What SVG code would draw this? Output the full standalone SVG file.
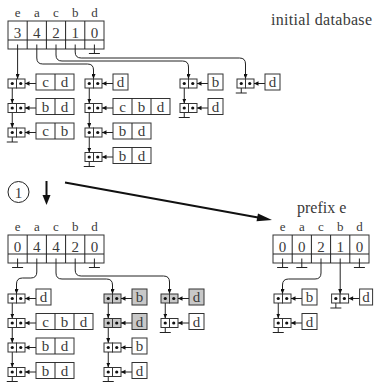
<svg xmlns="http://www.w3.org/2000/svg" xmlns:xlink="http://www.w3.org/1999/xlink" width="374" height="385" viewBox="0 0 374 385">
<style>
text{font-family:"Liberation Serif","DejaVu Serif",serif;font-size:15px;fill:#3a3a3a;text-anchor:middle}
.hd{font-size:13px}
.lbl{font-size:16px;text-anchor:start}
.bx{fill:#fff;stroke:#333;stroke-width:1}
.gy{fill:#c8c8c8}
.ln{fill:none;stroke:#222;stroke-width:1}
.pt{fill:none;stroke:#222;stroke-width:1;marker-end:url(#ah)}
.dt{fill:#111}
.big{fill:none;stroke:#111;stroke-width:2}
</style>
<defs>
<marker id="ah" viewBox="0 0 10 8" markerWidth="5" markerHeight="4" refX="10" refY="4" orient="auto" markerUnits="userSpaceOnUse"><path d="M0 0L10 4L0 8z" fill="#111"/></marker>
<g id="nd">
<rect class="bx" x="0" y="0" width="8.5" height="9"/><rect class="bx" x="8.5" y="0" width="8.5" height="9"/>
<circle class="dt" cx="4.25" cy="4.5" r="1.6"/><circle class="dt" cx="12.75" cy="4.5" r="1.6"/>
<path class="ln" d="M17 4.5H28"/><path class="dt" d="M17 4.5L21.5 2.2V6.8z"/>
</g>
<g id="ndg">
<rect class="bx gy" x="0" y="0" width="8.5" height="9"/><rect class="bx gy" x="8.5" y="0" width="8.5" height="9"/>
<circle class="dt" cx="4.25" cy="4.5" r="1.6"/><circle class="dt" cx="12.75" cy="4.5" r="1.6"/>
<path class="ln" d="M17 4.5H28"/><path class="dt" d="M17 4.5L21.5 2.2V6.8z"/>
</g>
</defs>

<text class="lbl" x="271" y="25" textLength="101">initial database</text>
<text class="lbl" x="297" y="213" font-size="15">prefix e</text>

<g id="array-initial">
<text class="hd" x="17.6" y="17">e</text><text class="hd" x="36.8" y="17">a</text><text class="hd" x="56" y="17">c</text><text class="hd" x="75.2" y="17">b</text><text class="hd" x="94.4" y="17">d</text>
<rect class="bx" x="8" y="21" width="96" height="28"/>
<path class="ln" d="M8 40H104M27.2 21V49M46.4 21V49M65.6 21V49M84.8 21V49"/>
<text x="17.6" y="37.5">3</text><text x="36.8" y="37.5">4</text><text x="56" y="37.5">2</text><text x="75.2" y="37.5">1</text><text x="94.4" y="37.5">0</text>
</g>

<g id="array-step1">
<text class="hd" x="17.6" y="231">e</text><text class="hd" x="36.8" y="231">a</text><text class="hd" x="56" y="231">c</text><text class="hd" x="75.2" y="231">b</text><text class="hd" x="94.4" y="231">d</text>
<rect class="bx" x="8" y="235" width="96" height="28"/>
<path class="ln" d="M8 254H104M27.2 235V263M46.4 235V263M65.6 235V263M84.8 235V263"/>
<text x="17.6" y="251.5">0</text><text x="36.8" y="251.5">4</text><text x="56" y="251.5">4</text><text x="75.2" y="251.5">2</text><text x="94.4" y="251.5">0</text>
</g>

<g id="array-prefix-e">
<text class="hd" x="282.6" y="231">e</text><text class="hd" x="301.8" y="231">a</text><text class="hd" x="321" y="231">c</text><text class="hd" x="340.2" y="231">b</text><text class="hd" x="359.4" y="231">d</text>
<rect class="bx" x="273" y="235" width="96" height="28"/>
<path class="ln" d="M273 254H369M292.2 235V263M311.4 235V263M330.6 235V263M349.8 235V263"/>
<text x="282.6" y="251.5">0</text><text x="301.8" y="251.5">0</text><text x="321" y="251.5">2</text><text x="340.2" y="251.5">1</text><text x="359.4" y="251.5">0</text>
</g>

<g id="step-marker">
<circle class="ln" cx="18.5" cy="192" r="10.5"/>
<text x="18.5" y="197.5">1</text>
</g>

<g id="connectors">
<path class="pt" d="M17.6 44.5V79"/>
<path class="pt" d="M36.8 44.5V58Q36.8 64 42.8 64H87.5Q93.5 64 93.5 70V79"/>
<path class="pt" d="M56 44.5V55Q56 61 62 61H182.5Q188.5 61 188.5 67V79"/>
<path class="pt" d="M75.2 44.5V52Q75.2 58 81.2 58H239.5Q245.5 58 245.5 64V79"/>
<path class="ln" d="M94.4 44.5V53.5M88.9 53.5H99.9"/>

<path class="pt" d="M12.25 83.5V103.5"/><path class="pt" d="M12.25 108V128"/><path class="ln" d="M12.25 132.5V142M6.75 142H17.75"/>
<path class="pt" d="M89.25 83.5V103.5"/><path class="pt" d="M89.25 108V128"/><path class="pt" d="M89.25 132.5V152.5"/><path class="ln" d="M89.25 157V166.5M83.75 166.5H94.75"/>
<path class="pt" d="M184.25 83.5V103.5"/><path class="ln" d="M184.25 108V117.5M178.75 117.5H189.75"/>
<path class="ln" d="M241.25 83.5V93M235.75 93H246.75"/>

<path class="ln" d="M17.6 258.5V267.5M12.1 267.5H23.1"/>
<path class="pt" d="M36.8 258.5V272Q36.8 278 30.8 278H22.5Q16.5 278 16.5 284V294"/>
<path class="pt" d="M56 258.5V273Q56 279 62 279H106.5Q112.5 279 112.5 285V294"/>
<path class="pt" d="M75.2 258.5V270Q75.2 276 81.2 276H163.5Q169.5 276 169.5 282V294"/>
<path class="ln" d="M94.4 258.5V267.5M88.9 267.5H99.9"/>

<path class="pt" d="M12.25 298.5V318.5"/><path class="pt" d="M12.25 323V343"/><path class="pt" d="M12.25 347.5V367.5"/><path class="ln" d="M12.25 372V381.5M6.75 381.5H17.75"/>
<path class="pt" d="M108.25 298.5V318.5"/><path class="pt" d="M108.25 323V343"/><path class="pt" d="M108.25 347.5V367.5"/><path class="ln" d="M108.25 372V381.5M102.75 381.5H113.75"/>
<path class="pt" d="M165.25 298.5V318.5"/><path class="ln" d="M165.25 323V332.5M159.75 332.5H170.75"/>

<path class="ln" d="M282.6 258.5V267.5M277.1 267.5H288.1"/>
<path class="ln" d="M301.8 258.5V267.5M296.3 267.5H307.3"/>
<path class="pt" d="M321 258.5V273Q321 279 315 279H288.5Q282.5 279 282.5 285V294"/>
<path class="pt" d="M340.2 258.5V294"/>
<path class="ln" d="M359.4 258.5V267.5M353.9 267.5H364.9"/>
<path class="pt" d="M278.25 298.5V318.5"/><path class="ln" d="M278.25 323V332.5M272.75 332.5H283.75"/>
<path class="ln" d="M335.85 298.5V308M330.35 308H341.35"/>

<path class="big" d="M46.5 181V196"/><path class="dt" d="M42.5 195H50.5L46.5 205z"/>
<path class="big" d="M65 182.5L258 217.5"/><path class="dt" d="M272 220L256.5 221.3L258 213.4z"/>
</g>

<g id="t-e-1" transform="translate(8,79)"><use href="#nd"/><rect class="bx" x="28" y="-5" width="38" height="16"/><path class="ln" d="M47 -5V11"/><text x="37.5" y="8">c</text><text x="56.5" y="8">d</text></g>
<g id="t-e-2" transform="translate(8,103.5)"><use href="#nd"/><rect class="bx" x="28" y="-5" width="38" height="16"/><path class="ln" d="M47 -5V11"/><text x="37.5" y="8">b</text><text x="56.5" y="8">d</text></g>
<g id="t-e-3" transform="translate(8,128)"><use href="#nd"/><rect class="bx" x="28" y="-5" width="38" height="16"/><path class="ln" d="M47 -5V11"/><text x="37.5" y="8">c</text><text x="56.5" y="8">b</text></g>

<g id="t-a-1" transform="translate(85,79)"><use href="#nd"/><rect class="bx" x="28" y="-5" width="15" height="16"/><text x="35.5" y="8">d</text></g>
<g id="t-a-2" transform="translate(85,103.5)"><use href="#nd"/><rect class="bx" x="28" y="-5" width="57" height="16"/><path class="ln" d="M47 -5V11M66 -5V11"/><text x="37.5" y="8">c</text><text x="56.5" y="8">b</text><text x="75.5" y="8">d</text></g>
<g id="t-a-3" transform="translate(85,128)"><use href="#nd"/><rect class="bx" x="28" y="-5" width="38" height="16"/><path class="ln" d="M47 -5V11"/><text x="37.5" y="8">b</text><text x="56.5" y="8">d</text></g>
<g id="t-a-4" transform="translate(85,152.5)"><use href="#nd"/><rect class="bx" x="28" y="-5" width="38" height="16"/><path class="ln" d="M47 -5V11"/><text x="37.5" y="8">b</text><text x="56.5" y="8">d</text></g>

<g id="t-c-1" transform="translate(180,79)"><use href="#nd"/><rect class="bx" x="28" y="-5" width="15" height="16"/><text x="35.5" y="8">b</text></g>
<g id="t-c-2" transform="translate(180,103.5)"><use href="#nd"/><rect class="bx" x="28" y="-5" width="15" height="16"/><text x="35.5" y="8">d</text></g>

<g id="t-b-1" transform="translate(237,79)"><use href="#nd"/><rect class="bx" x="28" y="-5" width="15" height="16"/><text x="35.5" y="8">d</text></g>

<g id="s-a-1" transform="translate(8,294)"><use href="#nd"/><rect class="bx" x="28" y="-5" width="15" height="16"/><text x="35.5" y="8">d</text></g>
<g id="s-a-2" transform="translate(8,318.5)"><use href="#nd"/><rect class="bx" x="28" y="-5" width="57" height="16"/><path class="ln" d="M47 -5V11M66 -5V11"/><text x="37.5" y="8">c</text><text x="56.5" y="8">b</text><text x="75.5" y="8">d</text></g>
<g id="s-a-3" transform="translate(8,343)"><use href="#nd"/><rect class="bx" x="28" y="-5" width="38" height="16"/><path class="ln" d="M47 -5V11"/><text x="37.5" y="8">b</text><text x="56.5" y="8">d</text></g>
<g id="s-a-4" transform="translate(8,367.5)"><use href="#nd"/><rect class="bx" x="28" y="-5" width="38" height="16"/><path class="ln" d="M47 -5V11"/><text x="37.5" y="8">b</text><text x="56.5" y="8">d</text></g>

<g id="s-c-1" transform="translate(104,294)"><use href="#ndg"/><rect class="bx gy" x="28" y="-5" width="15" height="16"/><text x="35.5" y="8">b</text></g>
<g id="s-c-2" transform="translate(104,318.5)"><use href="#ndg"/><rect class="bx gy" x="28" y="-5" width="15" height="16"/><text x="35.5" y="8">d</text></g>
<g id="s-c-3" transform="translate(104,343)"><use href="#nd"/><rect class="bx" x="28" y="-5" width="15" height="16"/><text x="35.5" y="8">b</text></g>
<g id="s-c-4" transform="translate(104,367.5)"><use href="#nd"/><rect class="bx" x="28" y="-5" width="15" height="16"/><text x="35.5" y="8">d</text></g>

<g id="s-b-1" transform="translate(161,294)"><use href="#ndg"/><rect class="bx gy" x="28" y="-5" width="15" height="16"/><text x="35.5" y="8">d</text></g>
<g id="s-b-2" transform="translate(161,318.5)"><use href="#nd"/><rect class="bx" x="28" y="-5" width="15" height="16"/><text x="35.5" y="8">d</text></g>

<g id="p-c-1" transform="translate(274,294)"><use href="#nd"/><rect class="bx" x="28" y="-5" width="15" height="16"/><text x="35.5" y="8">b</text></g>
<g id="p-c-2" transform="translate(274,318.5)"><use href="#nd"/><rect class="bx" x="28" y="-5" width="15" height="16"/><text x="35.5" y="8">d</text></g>
<g id="p-b-1" transform="translate(331.6,294)"><use href="#nd"/><rect class="bx" x="28" y="-5" width="13" height="16"/><text x="34.5" y="8">d</text></g>
</svg>
